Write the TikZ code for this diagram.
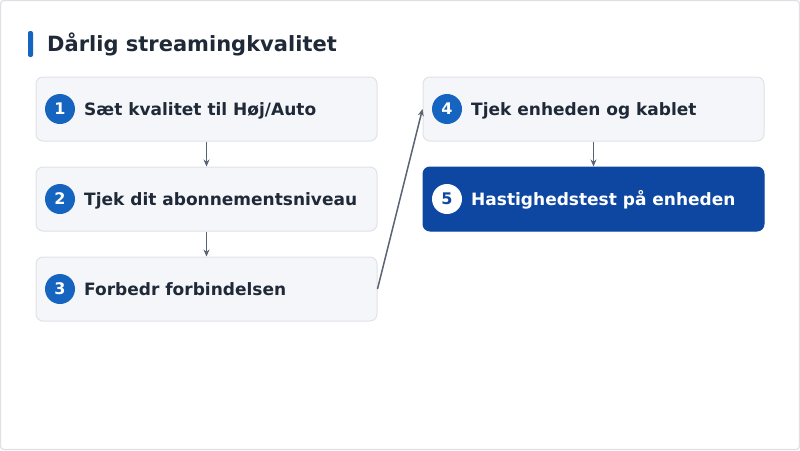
\documentclass[tikz,border=0pt]{standalone}
\usepackage{fontspec}
\setmainfont{DejaVu Sans}
\usetikzlibrary{arrows.meta}
\definecolor{boxfill}{HTML}{F5F6FA}
\definecolor{boxline}{HTML}{DFE2E7}
\definecolor{stepblue}{HTML}{1565C0}
\definecolor{darkblue}{HTML}{0D47A1}
\definecolor{txt}{HTML}{1F2937}
\definecolor{arrowc}{HTML}{5B6472}
\definecolor{frame}{HTML}{DDE1E6}
\tikzset{
  stepbox/.style={draw=boxline, line width=1pt, fill=boxfill, rounded corners=7pt, minimum width=341pt, minimum height=64pt, inner sep=0pt},
  hotbox/.style={draw=darkblue, line width=1pt, fill=darkblue, rounded corners=7pt, minimum width=341pt, minimum height=64pt, inner sep=0pt},
  numdot/.style={circle, fill=stepblue, minimum size=30pt, inner sep=0pt, text=white, font=\bfseries\fontsize{16pt}{18pt}\selectfont},
  numdotw/.style={circle, fill=white, minimum size=30pt, inner sep=0pt, text=darkblue, font=\bfseries\fontsize{16pt}{18pt}\selectfont},
  lbl/.style={anchor=base west, inner sep=0pt, text=txt, font=\bfseries\fontsize{17pt}{20pt}\selectfont},
  lblw/.style={anchor=base west, inner sep=0pt, text=white, font=\bfseries\fontsize{17pt}{20pt}\selectfont},
  conn/.style={draw=arrowc, line width=1.5pt, -{Stealth[length=7pt,width=6pt]}}
}
\begin{document}
\begin{tikzpicture}[x=1pt,y=-1pt]
\useasboundingbox (0,0) rectangle (800,450);
\draw[frame, line width=1.2pt, rounded corners=3pt] (0.6,0.6) rectangle (799.4,449.4);
% title
\fill[stepblue, rounded corners=2pt] (28,31) rectangle (33,57);
\node[anchor=base west, inner sep=0pt, text=txt, font=\bfseries\fontsize{21pt}{25pt}\selectfont] (title) at (47,51.5) {Dårlig streamingkvalitet};
% boxes
\node[stepbox] (b1) at (206.5,109) {};
\node[stepbox] (b2) at (206.5,199) {};
\node[stepbox] (b3) at (206.5,289) {};
\node[stepbox] (b4) at (593.5,109) {};
\node[hotbox] (b5) at (593.5,199) {};
% numbers
\node[numdot] (n1) at (60,109) {1};
\node[numdot] (n2) at (60,199) {2};
\node[numdot] (n3) at (60,289) {3};
\node[numdot] (n4) at (447,109) {4};
\node[numdotw] (n5) at (447,199) {5};
% labels
\node[lbl] (t1) at (84,115.3) {Sæt kvalitet til Høj/Auto};
\node[lbl] (t2) at (84,205.3) {Tjek dit abonnementsniveau};
\node[lbl] (t3) at (84,295.3) {Forbedr forbindelsen};
\node[lbl] (t4) at (471,115.3) {Tjek enheden og kablet};
\node[lblw] (t5) at (471,205.3) {Hastighedstest på enheden};
% connectors
\draw[conn] (b1.south) -- (b2.north);
\draw[conn] (b2.south) -- (b3.north);
\draw[conn] (b3.east) -- (b4.west);
\draw[conn] (b4.south) -- (b5.north);
\end{tikzpicture}
\end{document}
